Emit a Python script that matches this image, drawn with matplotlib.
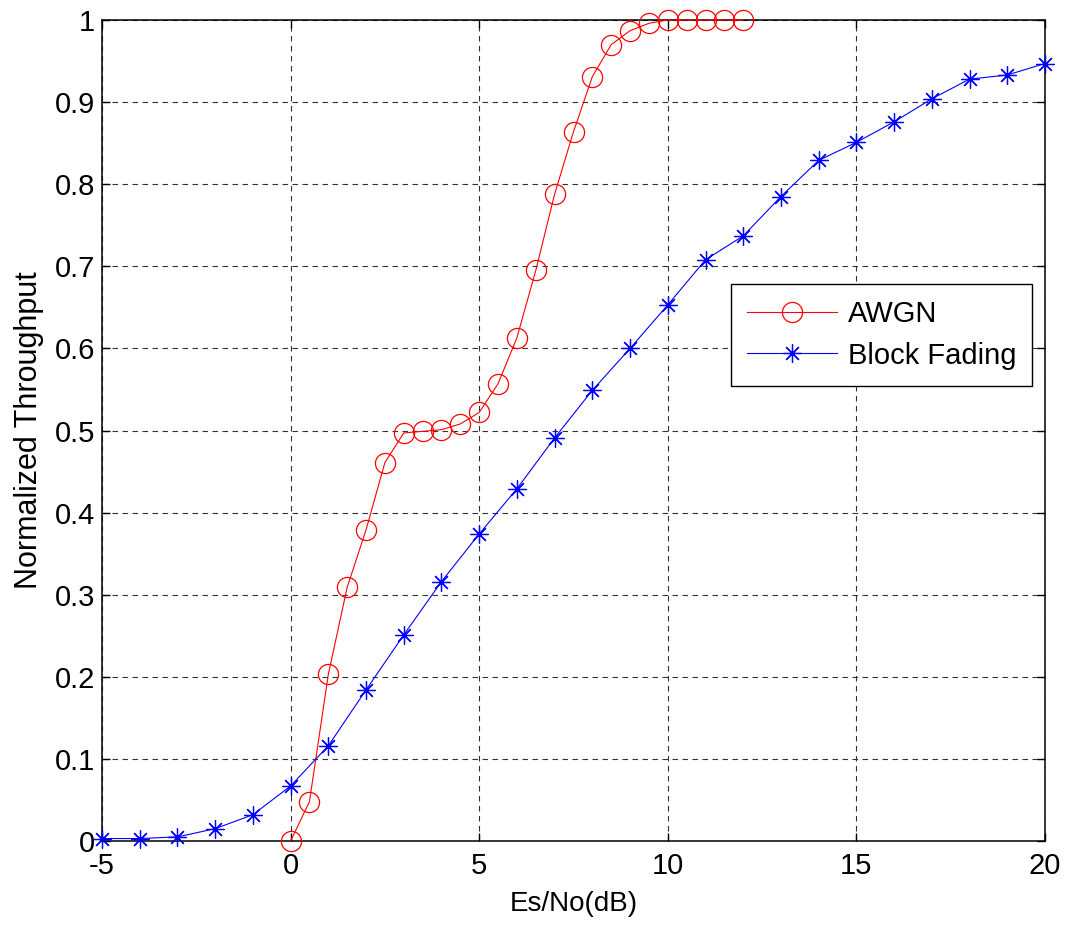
import matplotlib
matplotlib.use("Agg")
import matplotlib.pyplot as plt

plt.rcParams['font.family'] = ['Liberation Sans', 'DejaVu Sans']

awgn_x = [0, 0.5, 1, 1.5, 2, 2.5, 3, 3.5, 4, 4.5, 5, 5.5, 6, 6.5, 7, 7.5, 8,
          8.5, 9, 9.5, 10, 10.5, 11, 11.5, 12]
awgn_y = [0.0, 0.048, 0.203, 0.309, 0.379, 0.461, 0.497, 0.499, 0.501, 0.508,
          0.522, 0.557, 0.613, 0.695, 0.788, 0.864, 0.931, 0.970, 0.987, 0.996,
          1.0, 1.0, 1.0, 1.0, 1.0]

bf_x = list(range(-5, 21))
bf_y = [0.003, 0.003, 0.005, 0.015, 0.032, 0.067, 0.116, 0.184, 0.251, 0.316,
        0.374, 0.429, 0.491, 0.549, 0.600, 0.653, 0.708, 0.737, 0.785, 0.829,
        0.851, 0.876, 0.904, 0.928, 0.933, 0.947]

xticks = [-5, 0, 5, 10, 15, 20]
yticks = [0, 0.1, 0.2, 0.3, 0.4, 0.5, 0.6, 0.7, 0.8, 0.9, 1]
ytick_labels = ['0', '0.1', '0.2', '0.3', '0.4', '0.5', '0.6', '0.7', '0.8', '0.9', '1']

fig = plt.figure(figsize=(10.67, 9.25), dpi=100)
ax = fig.add_axes([102/1067, 1 - 841/925, 943/1067, 821/925])

ax.plot(awgn_x, awgn_y, color='#ff0000', lw=0.8, marker='o', markersize=14.5,
        markerfacecolor='none', markeredgecolor='#ff0000', markeredgewidth=0.9,
        label='AWGN', clip_on=False, zorder=3)
ax.plot(bf_x, bf_y, color='#0000ff', lw=0.8, marker=(8, 2, 0), markersize=13,
        markeredgecolor='#0000ff', markeredgewidth=0.9,
        label='Block Fading', clip_on=False, zorder=3)

ax.set_xlim(-5, 20)
ax.set_ylim(0, 1)
ax.set_xticks(xticks)
ax.set_xticklabels([str(t) for t in xticks])
ax.set_yticks(yticks)
ax.set_yticklabels(ytick_labels)

ax.grid(True, color='#333333', linestyle=(0, (5, 4)), linewidth=0.8)
ax.set_axisbelow(True)
for s in ax.spines.values():
    s.set_linewidth(1.1)
    s.set_color('black')
ax.tick_params(direction='in', length=6, width=1, labelsize=21, top=True, right=True)
ax.tick_params(axis='x', pad=8)
ax.tick_params(axis='y', pad=5)

ax.set_xlabel('Es/No(dB)', fontsize=20, labelpad=8)
ax.set_ylabel('Normalized Throughput', fontsize=22, labelpad=8)

leg = ax.legend(loc='upper left', bbox_to_anchor=(0.667, 0.678), borderaxespad=0,
                fontsize=21, frameon=True, fancybox=False, edgecolor='black',
                framealpha=1, handlelength=3.1, borderpad=0.55, labelspacing=0.45,
                handletextpad=0.35)
leg.get_frame().set_linewidth(1.0)

fig.savefig('out.png', dpi=100)
